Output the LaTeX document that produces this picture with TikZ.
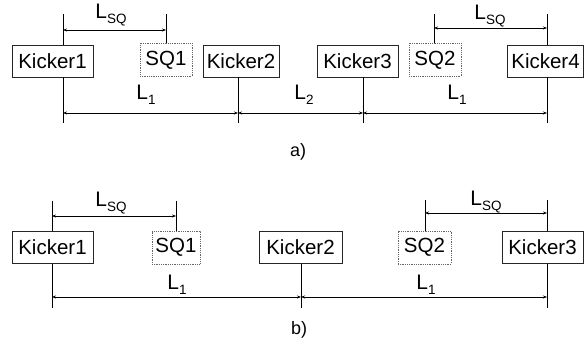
\documentclass[tikz,border=0pt]{standalone}
\usepackage{fontspec}
\setmainfont{Liberation Sans}
\usetikzlibrary{arrows.meta}
\newcommand{\lab}[2]{#1{\fontsize{13.5}{13.5}\selectfont\raisebox{-4.5pt}{#2}}}
\tikzset{
  kbox/.style={draw=black!85, line width=0.8pt, inner xsep=0pt, inner ysep=0pt, minimum height=32pt, font=\fontsize{20.5}{22}\selectfont},
  sqbox/.style={draw=black!60, densely dotted, line width=0.8pt, inner xsep=0pt, inner ysep=0pt, minimum height=33pt, font=\fontsize{20.5}{22}\selectfont},
  vline/.style={draw=black, line width=0.9pt},
  dim/.style={draw=black, line width=0.8pt, {Stealth[length=4pt,width=3pt]}-{Stealth[length=4pt,width=3pt]}},
  lbl/.style={font=\fontsize{21}{22}\selectfont, inner sep=0pt},
  captext/.style={font=\fontsize{18}{20}\selectfont, inner sep=0pt}
}
\begin{document}
\begin{tikzpicture}[x=1pt,y=-1pt]
\useasboundingbox (0,0) rectangle (584,344);
% ---------- panel a ----------
\node[kbox, minimum width=81pt] (k1a) at (52.5,61) {Kicker1};
\node[sqbox, minimum width=52pt] (s1a) at (166,60) {SQ1};
\node[kbox, minimum width=76pt] (k2a) at (241,61) {Kicker2};
\node[kbox, minimum width=81pt] (k3a) at (357.5,61) {Kicker3};
\node[sqbox, minimum width=52pt] (s2a) at (435,60) {SQ2};
\node[kbox, minimum width=76pt] (k4a) at (545.5,61) {Kicker4};
% top ends
\coordinate (t1a) at (63,14);
\coordinate (ts1a) at (166,14);
\coordinate (ts2a) at (434,14);
\coordinate (t4a) at (547,14);
% bottom ends
\coordinate (b1a) at (63,123);
\coordinate (b2a) at (238,123);
\coordinate (b3a) at (363,123);
\coordinate (b4a) at (547,123);
\draw[vline] (t1a) -- (t1a |- k1a.north);
\draw[vline] (ts1a) -- (ts1a |- s1a.north);
\draw[vline] (ts2a) -- (ts2a |- s2a.north);
\draw[vline] (t4a) -- (t4a |- k4a.north);
\draw[vline] (b1a |- k1a.south) -- (b1a);
\draw[vline] (b2a |- k2a.south) -- (b2a);
\draw[vline] (b3a |- k3a.south) -- (b3a);
\draw[vline] (b4a |- k4a.south) -- (b4a);
% dimension lines
\coordinate (dsq1l) at (63,30);  \coordinate (dsq1r) at (166,30);
\coordinate (dsq2l) at (434,28); \coordinate (dsq2r) at (547,28);
\coordinate (d1) at (63,113); \coordinate (d2) at (238,113);
\coordinate (d3) at (363,113); \coordinate (d4) at (547,113);
\draw[dim] (dsq1l) -- (dsq1r);
\draw[dim] (dsq2l) -- (dsq2r);
\draw[dim] (d1) -- (d2);
\draw[dim] (d2) -- (d3);
\draw[dim] (d3) -- (d4);
\node[lbl] (lsq1a) at (111,15) {\lab{L}{SQ}};
\node[lbl] (lsq2a) at (490,16) {\lab{L}{SQ}};
\node[lbl] (l1a) at (146,95) {\lab{L}{1}};
\node[lbl] (l2a) at (304,95) {\lab{L}{2}};
\node[lbl] (l3a) at (457,95) {\lab{L}{1}};
\node[captext] (capa) at (298,152) {a)};
% ---------- panel b ----------
\node[kbox, minimum width=81pt] (k1b) at (52.5,247.5) {Kicker1};
\node[sqbox, minimum width=48pt] (s1b) at (176,247.5) {SQ1};
\node[kbox, minimum width=83pt] (k2b) at (300.5,247.5) {Kicker2};
\node[sqbox, minimum width=53pt] (s2b) at (424.5,247.5) {SQ2};
\node[kbox, minimum width=81pt] (k3b) at (542.5,247.5) {Kicker3};
\coordinate (t1b) at (52,201);
\coordinate (ts1b) at (176,201);
\coordinate (ts2b) at (425,200);
\coordinate (t3b) at (547,200);
\coordinate (b1b) at (52,308);
\coordinate (b2b) at (301,308);
\coordinate (b3b) at (547,308);
\draw[vline] (t1b) -- (t1b |- k1b.north);
\draw[vline] (ts1b) -- (ts1b |- s1b.north);
\draw[vline] (ts2b) -- (ts2b |- s2b.north);
\draw[vline] (t3b) -- (t3b |- k3b.north);
\draw[vline] (b1b |- k1b.south) -- (b1b);
\draw[vline] (b2b |- k2b.south) -- (b2b);
\draw[vline] (b3b |- k3b.south) -- (b3b);
\coordinate (esq1l) at (52,216);  \coordinate (esq1r) at (176,216);
\coordinate (esq2l) at (425,213); \coordinate (esq2r) at (547,213);
\coordinate (e1) at (52,297); \coordinate (e2) at (301,297); \coordinate (e3) at (547,297);
\draw[dim] (esq1l) -- (esq1r);
\draw[dim] (esq2l) -- (esq2r);
\draw[dim] (e1) -- (e2);
\draw[dim] (e2) -- (e3);
\node[lbl] (lsq1b) at (111,203) {\lab{L}{SQ}};
\node[lbl] (lsq2b) at (486,202) {\lab{L}{SQ}};
\node[lbl] (l1b) at (177,285) {\lab{L}{1}};
\node[lbl] (l2b) at (426,285) {\lab{L}{1}};
\node[captext] (capb) at (299,330) {b)};
\end{tikzpicture}
\end{document}
